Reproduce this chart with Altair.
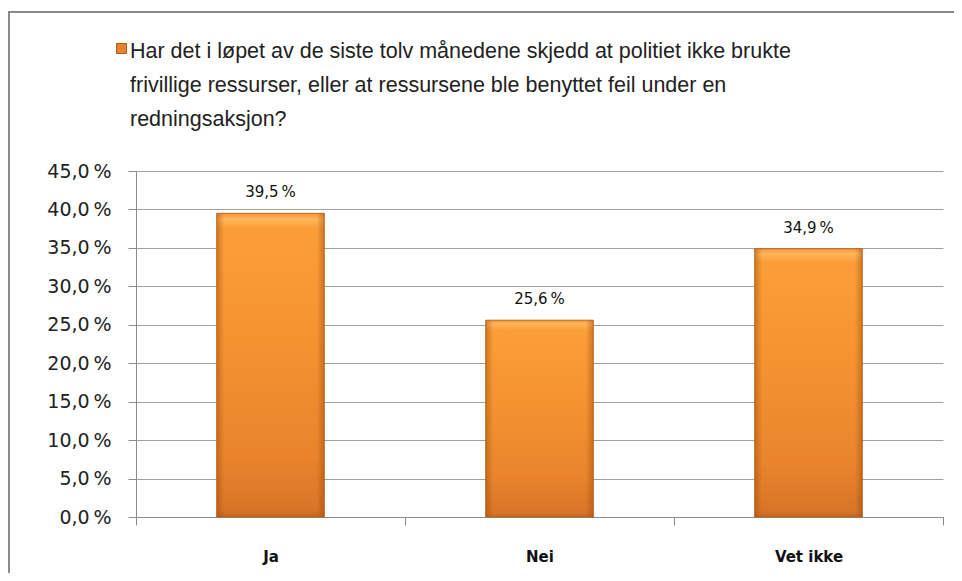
import altair as alt
import pandas as pd

categories = ["Ja", "Nei", "Vet ikke"]
values = [39.5, 25.6, 34.9]
y_ticks = [0, 5, 10, 15, 20, 25, 30, 35, 40, 45]
series_name = "Har det i løpet av de siste tolv månedene skjedd at politiet ikke brukte frivillige ressurser, eller at ressursene ble benyttet feil under en redningsaksjon?"
title_lines = [
    "Har det i løpet av de siste tolv månedene skjedd at politiet ikke brukte",
    "frivillige ressurser,  eller at ressursene ble benyttet feil under en",
    "redningsaksjon?",
]

df = pd.DataFrame({"cat": categories, "val": values, "serie": [series_name] * len(categories)})

W, H = 807, 346

x = alt.X("cat:N", sort=categories,
          scale=alt.Scale(paddingInner=0, paddingOuter=0),
          axis=alt.Axis(title=None, labelAngle=0, tickBand="extent", tickSize=8,
                        tickColor="#8c8c8c", domainColor="#8c8c8c", labelPadding=24,
                        labelFont="DejaVu Sans", labelFontSize=15, labelFontWeight="bold",
                        labelColor="#111"))
y = alt.Y("val:Q", scale=alt.Scale(domain=[0, 45], nice=False),
          axis=alt.Axis(title=None, values=y_ticks, tickSize=8, tickColor="#8c8c8c",
                        domainColor="#8c8c8c", gridColor="#a0a0a0", labelPadding=17,
                        labelFont="DejaVu Sans", labelFontSize=19, labelColor="#222",
                        labelExpr="replace(format(datum.value, '.1f'), '.', ',') + '\u2009%'"))

base = alt.Chart(df)

bar_w = alt.RelativeBandSize(0.4)

legend_bar = base.mark_bar(width=bar_w).encode(
    x=x, y=y,
    color=alt.Color("serie:N", scale=alt.Scale(range=["#E8822E"]),
                    legend=alt.Legend(title=None, orient="none", legendX=-20, legendY=-128,
                                      symbolType="square", symbolSize=100,
                                      symbolStrokeColor="#A85A18", symbolStrokeWidth=1,
                                      labelExpr="''", padding=0)),
)

grad_v = alt.LinearGradient(
    gradient="linear", x1=0, x2=0, y1=0, y2=1,
    stops=[
        alt.GradientStop(color="#F5963A", offset=0),
        alt.GradientStop(color="#FFB55A", offset=0.02),
        alt.GradientStop(color="#FB9E38", offset=0.05),
        alt.GradientStop(color="#F59331", offset=0.4),
        alt.GradientStop(color="#E9842C", offset=0.8),
        alt.GradientStop(color="#D87427", offset=0.98),
        alt.GradientStop(color="#C4661F", offset=1),
    ],
)
grad_h = alt.LinearGradient(
    gradient="linear", x1=0, x2=1, y1=0, y2=0,
    stops=[
        alt.GradientStop(color="rgba(150,70,10,0.45)", offset=0),
        alt.GradientStop(color="rgba(150,70,10,0)", offset=0.07),
        alt.GradientStop(color="rgba(150,70,10,0)", offset=0.93),
        alt.GradientStop(color="rgba(150,70,10,0.45)", offset=1),
    ],
)

bars = base.mark_bar(width=bar_w, color=grad_v).encode(x=x, y=y)
bevel = base.mark_bar(width=bar_w, color=grad_h, stroke="#B5611D", strokeWidth=1,
                      strokeOpacity=0.8).encode(x=x, y=y)

labels = base.transform_calculate(
    lab="replace(format(datum.val, '.1f'), '.', ',') + '\u2009%'"
).mark_text(baseline="bottom", dy=-13, font="DejaVu Sans", fontSize=15, color="#111").encode(
    x=x, y=y, text="lab:N")

frame_df = pd.DataFrame({"f": [1]})
frame = alt.Chart(frame_df).mark_rect(fill=None, stroke="#8a8a8a", strokeWidth=2).encode(
    x=alt.value(-127), x2=alt.value(W + 60), y=alt.value(-159), y2=alt.value(H + 120))

chart = alt.layer(frame, legend_bar, bars, bevel, labels).properties(
    width=W, height=H,
    autosize=alt.AutoSizeParams(type="none"),
    padding={"left": 128, "top": 163, "right": 11, "bottom": 56},
    title=alt.TitleParams(text=title_lines, anchor="start", orient="top", frame="group",
                          font="Liberation Sans", fontSize=21.5, fontWeight="normal",
                          color="#222", lineHeight=34, offset=0, dx=-6, baseline="top",
                          dy=119),
).configure_view(stroke=None)

chart.save("out.html", embed_options={"renderer": "svg", "actions": False})
